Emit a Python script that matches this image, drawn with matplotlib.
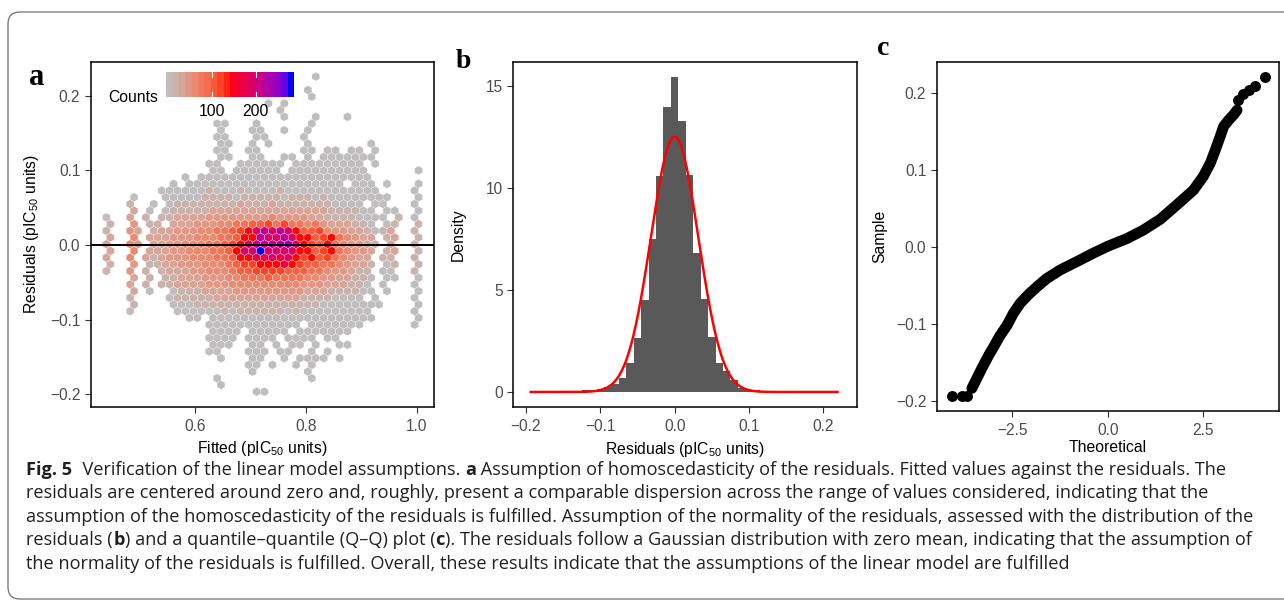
import numpy as np
import matplotlib
matplotlib.use("Agg")
import matplotlib.pyplot as plt
from matplotlib import font_manager as fm
from matplotlib.colors import ListedColormap
from matplotlib.patches import FancyBboxPatch

W, H = 1284, 601
plt.rcParams['font.family'] = ['Liberation Sans', 'DejaVu Sans']
plt.rcParams['mathtext.fontset'] = 'custom'
plt.rcParams['mathtext.rm'] = 'Liberation Sans'
plt.rcParams['mathtext.it'] = 'Liberation Sans:italic'
plt.rcParams['mathtext.default'] = 'regular'

# ---------------- data ----------------
# Panel a: hexagon counts, rows from top (residual high) to bottom; columns by fitted value
hex_rows = [
    ".......... .......... ......1... ..........",
    ".......... .......... .......... ..........",
    ".......... .......... .....1.... ..........",
    ".......... .......... ......1... ..........",
    ".......... .......... 1.1....... ..........",
    ".......... .......... ..1....... ..........",
    ".......... .......... ..1...1... 1.........",
    ".......... ....11...1 ......1... ..........",
    ".......... ....1...11 ..1..1.... ..........",
    ".......... ....11...1 1....1.... ..........",
    ".......... ....11..1. 1....1.... ...1......",
    ".......... ....11..11 .....11.11 .11.1.....",
    ".......... ....11..11 ..11.1.111 1111......",
    ".......... ...11..111 111.111111 111.1.....",
    ".......... ...11.1111 11.1111111 111......1",
    ".......... 1.11111111 1111111111 1111......",
    "........1. 1111111111 1111111111 .111.1...1",
    ".......111 1112111211 1121111111 11111....1",
    "...1...111 1122221222 2212221211 111111...1",
    "...2..1.12 2222222322 2322222221 111.11...1",
    "...3.1.122 2223333333 3333333322 2211.11..1",
    "1..3.2.223 3334444444 4544443322 221111.2.1",
    "2..4.22.33 3444556677 8686656433 3221.12..2",
    "2..43.2334 445566789B CBCB977854 4332123..2",
    "3..5.33344 455566799C BBCB997896 5433.23..2",
    "3..54.3344 55566789BC CCCDB98796 54432.3..2",
    "3..5.33344 5556679BBE BBBB997896 5443.23..2",
    "3..5.32344 455566799A ABAB989786 5433.22..2",
    "2..4.22334 4455567889 99A9877665 4332.12..2",
    "2..4.2.233 3445556778 8887776654 4322.11..2",
    "...3.2.223 3344455666 7666655443 3221.11..1",
    "...3.2.223 3334445555 5555544433 3221.1...1",
    "...3.1..12 2233334444 4444433322 2211.1...1",
    "...2....12 2222333333 3333322221 111.1....1",
    "...2....11 1222222222 2222222111 11111....1",
    "...1.....1 1111121222 2221211111 1111.....1",
    ".......... 11.1111111 1111111111 1111.....1",
    ".......... ...1111111 11111.1111 111......1",
    ".......... ...1111.11 111.111111 1.........",
    ".......... ...1111.11 11.1111.11 ..........",
    ".......... ...111..11 .1.11.1..1 1.........",
    ".......... ...11...11 1.11..1.1. ..........",
    ".......... ....1...11 ..1.1111.1 ..........",
    ".......... ........11 .1..1.1... ..........",
    ".......... ........1. .....1.... ..........",
    ".......... ....1..... ......1... ..........",
    ".......... ....1..... .......... ..........",
    ".......... .........1 1......... ..........",
]
level_counts = {'1': 3, '2': 15, '3': 30, '4': 45, '5': 60, '6': 80, '7': 100,
                '8': 120, '9': 140, 'A': 165, 'B': 190, 'C': 220, 'D': 250, 'E': 281}
hex_fitted_start = 0.4403     # fitted value of first hexagon column
hex_fitted_step = 0.01425     # hexagon width (fitted units)
hex_resid_start = -0.1965     # residual of lowest hexagon row
hex_resid_step = 0.00898      # row spacing (residual units)
count_min, count_max = 1, 281
count_ticks = [100, 200]

# Panel b: histogram of residuals (density) and fitted normal curve
hist_centers = [-0.13, -0.12, -0.11, -0.10, -0.09, -0.08, -0.07, -0.06, -0.05, -0.04,
                -0.03, -0.02, -0.01, 0.00, 0.01, 0.02, 0.03, 0.04, 0.05, 0.06,
                0.07, 0.08, 0.09, 0.10, 0.11, 0.12]
hist_density = [0.05, 0.08, 0.10, 0.15, 0.25, 0.40, 0.70, 1.42, 2.66, 4.52,
                 7.49, 10.58, 13.96, 15.43, 13.27, 10.63, 6.82, 4.55, 2.68, 1.44,
                 1.03, 0.57, 0.21, 0.12, 0.08, 0.05]
hist_binwidth = 0.01
norm_mean, norm_sd = 0.0, 0.0319
resid_min, resid_max = -0.1935, 0.2192

# Panel c: Q-Q plot (theoretical vs sample quantiles)
qq_theoretical = [-3.56, -3.43, -3.30, -3.12, -2.99, -2.82, -2.64, -2.47, -2.29, -2.08,
                  -1.86, -1.60, -1.25, -0.81, -0.38, 0.0, 0.50, 0.93, 1.37, 1.81,
                  2.24, 2.50, 2.68, 2.81, 2.94, 3.03, 3.16, 3.29, 3.38]
qq_sample = [-0.184, -0.171, -0.158, -0.141, -0.130, -0.115, -0.102, -0.086, -0.073, -0.062,
             -0.052, -0.041, -0.030, -0.019, -0.008, 0.001, 0.011, 0.022, 0.036, 0.055,
             0.074, 0.092, 0.109, 0.126, 0.144, 0.157, 0.165, 0.172, 0.178]
qq_tail_theoretical = [-4.08, -3.82, -3.69, 3.40, 3.53, 3.68, 3.86, 4.12]
qq_tail_sample = [-0.1935, -0.1935, -0.1935, 0.191, 0.199, 0.204, 0.210, 0.221]

caption_lines = [
    [("Fig. 5", "bold"), ("  Verification of the linear model assumptions. ", "normal"), ("a", "bold"),
     (" Assumption of homoscedasticity of the residuals. Fitted values against the residuals. The", "normal")],
    [("residuals are centered around zero and, roughly, present a comparable dispersion across the range of values considered, indicating that the", "normal")],
    [("assumption of the homoscedasticity of the residuals is fulfilled. Assumption of the normality of the residuals, assessed with the distribution of the", "normal")],
    [("residuals (", "normal"), ("b", "bold"), (") and a quantile\u2013quantile (Q\u2013Q) plot (", "normal"), ("c", "bold"),
     ("). The residuals follow a Gaussian distribution with zero mean, indicating that the assumption of", "normal")],
    [("the normality of the residuals is fulfilled. Overall, these results indicate that the assumptions of the linear model are fulfilled", "normal")],
]
caption_line_ends = [1222, 1207, 1266, 1263, 840]

# ---------------- helpers ----------------
_M = np.array([[0.4124564, 0.3575761, 0.1804375],
               [0.2126729, 0.7151522, 0.0721750],
               [0.0193339, 0.1191920, 0.9503041]])
_WHITE = np.array([0.95047, 1.0, 1.08883])


def _srgb_to_lab(rgb):
    c = np.asarray(rgb, float)
    lin = np.where(c <= 0.04045, c / 12.92, ((c + 0.055) / 1.055) ** 2.4)
    xyz = _M @ lin / _WHITE
    d = 6 / 29
    f = np.where(xyz > d ** 3, np.cbrt(xyz), xyz / (3 * d * d) + 4 / 29)
    return np.array([116 * f[1] - 16, 500 * (f[0] - f[1]), 200 * (f[1] - f[2])])


def _lab_to_srgb(lab):
    L, a, b = lab
    fy = (L + 16) / 116
    fx = fy + a / 500
    fz = fy - b / 200
    d = 6 / 29
    fi = lambda t: t ** 3 if t > d else 3 * d * d * (t - 4 / 29)
    xyz = np.array([fi(fx), fi(fy), fi(fz)]) * _WHITE
    lin = np.clip(np.linalg.inv(_M) @ xyz, 0, 1)
    c = np.where(lin <= 0.0031308, 12.92 * lin, 1.055 * lin ** (1 / 2.4) - 0.055)
    return np.clip(c, 0, 1)


stops = [(0.745, 0.745, 0.745), (1.0, 0.0, 0.0), (0.0, 0.0, 1.0)]
labs = [_srgb_to_lab(s) for s in stops]
cols = []
for t in np.linspace(0, 1, 256):
    seg = min(int(t * 2), 1)
    u = t * 2 - seg
    cols.append(_lab_to_srgb(labs[seg] * (1 - u) + labs[seg + 1] * u))
cmap = ListedColormap(cols)

TICK_COL = '#4D4D4D'
TICK_FS = 11.2
TITLE_FS = 11.3


def px_axes(l, t, r, b, **kw):
    return fig.add_axes([l / W, 1 - b / H, (r - l) / W, (b - t) / H], **kw)


def style(ax):
    for s in ax.spines.values():
        s.set_linewidth(1.1)
        s.set_color('black')
    ax.tick_params(direction='out', length=4, width=0.8, color='#333333',
                   labelcolor=TICK_COL, labelsize=TICK_FS)
    ax.tick_params(axis='x', pad=4.5)
    ax.tick_params(axis='y', pad=3.5)


# ---------------- figure ----------------
fig = plt.figure(figsize=(W / 100, H / 100), dpi=100)
fig.patch.set_facecolor('white')

bg = fig.add_axes([0, 0, 1, 1], zorder=-5)
bg.set_xlim(0, W)
bg.set_ylim(H, 0)
bg.axis('off')
bg.add_patch(FancyBboxPatch((8, 12), 1300, 587, boxstyle='round,pad=0,rounding_size=12',
                            fc='none', ec='#707070', lw=0.9))

# ---- panel a ----
xs, ys, cs = [], [], []
nrows = len(hex_rows)
for r, row in enumerate(hex_rows):
    j = nrows - 1 - r
    for i, ch in enumerate(row.replace(' ', '')):
        if ch == '.':
            continue
        xs.append(hex_fitted_start + (i + 0.5 * (j % 2)) * hex_fitted_step)
        ys.append(hex_resid_start + j * hex_resid_step)
        cs.append(level_counts[ch])

axa = px_axes(90.7, 61.7, 434, 406.7)
sx, sy = hex_fitted_step, 2 * hex_resid_step
nx, ny = 46, 28
xmin = hex_fitted_start - 3 * sx
ymin = hex_resid_start - 2 * sy
axa.hexbin(xs, ys, C=cs, reduce_C_function=np.sum, gridsize=(nx, ny),
           extent=(xmin, xmin + nx * sx, ymin, ymin + ny * sy), cmap=cmap,
           vmin=count_min, vmax=count_max, linewidths=0.2, edgecolors='white')
axa.axhline(0, color='black', lw=1.4)
axa.set_xlim(0.412, 1.031)
axa.set_ylim(-0.2166, 0.2455)
axa.set_xticks([0.6, 0.8, 1.0])
axa.set_xticklabels(['0.6', '0.8', '1.0'])
axa.set_yticks([-0.2, -0.1, 0.0, 0.1, 0.2])
axa.set_yticklabels(['\u22120.2', '\u22120.1', '0.0', '0.1', '0.2'])
style(axa)
axa.set_xlabel('Fitted (pIC$_{50}$ units)', fontsize=TITLE_FS, labelpad=4)
axa.set_ylabel('Residuals (pIC$_{50}$ units)', fontsize=TITLE_FS, labelpad=6.5)

# colour legend
cax = px_axes(166, 71.7, 294, 97.3)
nb = 20
delta = (count_max - count_min) / (nb - 1)
vals = np.linspace(count_min, count_max, nb)
cax.imshow(vals[None, :], cmap=cmap, vmin=count_min, vmax=count_max, aspect='auto',
           extent=(count_min - delta / 2, count_max + delta / 2, 0, 1), interpolation='nearest')
for tv in count_ticks:
    cax.plot([tv, tv], [0, 0.2], color='white', lw=0.8)
    cax.plot([tv, tv], [0.8, 1], color='white', lw=0.8)
cax.set_xlim(count_min - delta / 2, count_max + delta / 2)
cax.set_ylim(0, 1)
cax.axis('off')
for tv in count_ticks:
    xpix = 166 + (tv - (count_min - delta / 2)) / (count_max - count_min + delta) * 128
    fig.text(xpix / W, 1 - 111 / H, str(tv), ha='center', va='center', fontsize=11.3, color='black')
fig.text(108 / W, 1 - 97 / H, 'Counts', ha='left', va='center', fontsize=11.3, color='black')

# ---- panel b ----
axb = px_axes(513.3, 61.7, 857.3, 407.3)
axb.bar(hist_centers, hist_density, width=hist_binwidth, color='#595959', linewidth=0)
xc = np.linspace(resid_min, resid_max, 500)
yc = np.exp(-0.5 * ((xc - norm_mean) / norm_sd) ** 2) / (norm_sd * np.sqrt(2 * np.pi))
axb.plot(xc, yc, color='red', lw=1.8)
axb.set_xlim(-0.217, 0.2457)
axb.set_ylim(-0.75, 16.18)
axb.set_xticks([-0.2, -0.1, 0.0, 0.1, 0.2])
axb.set_xticklabels(['\u22120.2', '\u22120.1', '0.0', '0.1', '0.2'])
axb.set_yticks([0, 5, 10, 15])
style(axb)
axb.set_xlabel('Residuals (pIC$_{50}$ units)', fontsize=TITLE_FS, labelpad=4)
axb.set_ylabel('Density', fontsize=TITLE_FS, labelpad=14.5)

# ---- panel c ----
axc = px_axes(936.7, 61.7, 1278.7, 410.7)
axc.plot(qq_theoretical, qq_sample, color='black', lw=7.8, solid_capstyle='round',
         solid_joinstyle='round')
axc.scatter(qq_tail_theoretical, qq_tail_sample, s=62, color='black', linewidths=0)
axc.set_xlim(-4.48, 4.47)
axc.set_ylim(-0.213, 0.241)
axc.set_xticks([-2.5, 0.0, 2.5])
axc.set_xticklabels(['\u22122.5', '0.0', '2.5'])
axc.set_yticks([-0.2, -0.1, 0.0, 0.1, 0.2])
axc.set_yticklabels(['\u22120.2', '\u22120.1', '0.0', '0.1', '0.2'])
style(axc)
axc.set_xlabel('Theoretical', fontsize=TITLE_FS, labelpad=2)
axc.set_ylabel('Sample', fontsize=TITLE_FS, labelpad=6.5)

# panel letters
for letter, xp, yp, fs in [('a', 29, 85, 22), ('b', 456, 68, 20), ('c', 877, 55, 20)]:
    fig.text(xp / W, 1 - yp / H, letter, fontsize=fs, fontweight='bold',
             family=['Liberation Serif', 'DejaVu Serif'], va='baseline', ha='left')

# ---- caption ----
names = {f.name for f in fm.fontManager.ttflist}
cap_family = 'Open Sans' if 'Open Sans' in names else ('Noto Sans' if 'Noto Sans' in names else 'Liberation Sans')
renderer = fig.canvas.get_renderer()


def measure(runs, size):
    total = 0
    for s, w in runs:
        t = fig.text(0, 0, s, fontsize=size, fontweight=w, family=cap_family)
        total += t.get_window_extent(renderer).width
        t.remove()
    return total


base = 12
ratios = [(end - 26) / measure(runs, base) for runs, end in zip(caption_lines, caption_line_ends)]
cap_size = base * min(ratios[:4])
baselines = [474.7, 497.8, 521.5, 545.3, 569.0]
for runs, yb in zip(caption_lines, baselines):
    x = 26.5
    for s, w in runs:
        t = fig.text(x / W, 1 - yb / H, s, fontsize=cap_size, fontweight=w,
                     family=cap_family, va='baseline', ha='left', color='#231F20')
        x += t.get_window_extent(renderer).width

fig.savefig('out.png', dpi=100, facecolor='white')
